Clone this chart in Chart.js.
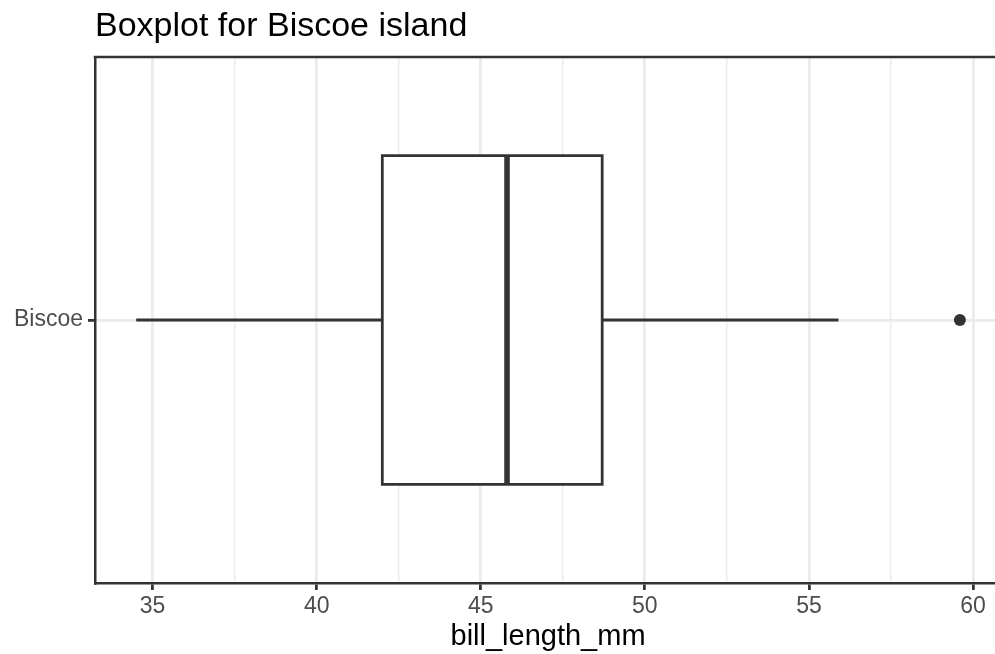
<!DOCTYPE html>
<html><head><meta charset="utf-8">
<script src="https://cdn.jsdelivr.net/npm/chart.js@4.4.0/dist/chart.umd.min.js"></script>
<style>html,body{margin:0;padding:0;background:#fff}#wrap{width:995px;height:654px;overflow:hidden}</style>
</head><body><div id="wrap"><canvas id="c" width="995" height="654"></canvas></div>
<script>
// ---- data ----
const categories = ['Biscoe'];
const lowerWhisker = [34.5];
const q1 = [42.0];
const median = [45.8];
const q3 = [48.7];
const upperWhisker = [55.9];
const outliers = [[59.6]];
const majorTicks = [35, 40, 45, 50, 55, 60];
const minorTicks = [37.5, 42.5, 47.5, 52.5, 57.5];
const titleText = 'Boxplot for Biscoe island';
const xTitle = 'bill_length_mm';

// ---- styling constants ----
const FONT = '"Liberation Sans", Arial, Helvetica, sans-serif';
const INK = '#333333';
const HALF = 0.375;   // half box height in category units
const LW = 2.77;
const X_MIN = 33.245, X_PANEL_MAX = 60.855, X_VIEW_MAX = 60.67; // panel is cropped at the right edge

const datasets = [];
categories.forEach((cat, i) => {
  datasets.push({
    data: [{x: lowerWhisker[i], y: i}, {x: q1[i], y: i}],
    showLine: true, borderColor: INK, borderWidth: LW, pointRadius: 0, borderCapStyle: 'butt', order: 3
  });
  datasets.push({
    data: [{x: q3[i], y: i}, {x: upperWhisker[i], y: i}],
    showLine: true, borderColor: INK, borderWidth: LW, pointRadius: 0, borderCapStyle: 'butt', order: 3
  });
  datasets.push({
    data: [{x: q1[i], y: i - HALF}, {x: q3[i], y: i - HALF}, {x: q3[i], y: i + HALF}, {x: q1[i], y: i + HALF}, {x: q1[i], y: i - HALF}],
    showLine: true, borderColor: INK, borderWidth: LW, pointRadius: 0, fill: 'shape',
    backgroundColor: '#ffffff', borderJoinStyle: 'miter', borderCapStyle: 'square', tension: 0, order: 2
  });
  datasets.push({
    data: [{x: median[i], y: i - HALF}, {x: median[i], y: i + HALF}],
    showLine: true, borderColor: INK, borderWidth: LW * 2, pointRadius: 0, borderCapStyle: 'butt', order: 1
  });
  datasets.push({
    data: outliers[i].map(v => ({x: v, y: i})),
    showLine: false, pointRadius: 6, pointBackgroundColor: INK, pointBorderWidth: 0, order: 0
  });
});

const isMajor = v => majorTicks.includes(v);

const frame = {
  id: 'frame',
  afterDraw(chart) {
    const {ctx, chartArea: a} = chart;
    const xs = chart.scales.x;
    ctx.save();
    ctx.strokeStyle = INK;
    ctx.lineWidth = 2.5;
    ctx.beginPath();
    ctx.moveTo(a.left - 1.25, a.top);
    ctx.lineTo(a.right + 2, a.top);
    ctx.stroke();
    ctx.fillStyle = '#000';
    ctx.font = '34px ' + FONT;
    ctx.textAlign = 'left';
    ctx.textBaseline = 'alphabetic';
    ctx.fillText(titleText, a.left, 36);
    ctx.font = '29px ' + FONT;
    ctx.textAlign = 'center';
    ctx.fillText(xTitle, xs.getPixelForValue((X_MIN + X_PANEL_MAX) / 2), 645);
    ctx.restore();
  }
};

new Chart(document.getElementById('c'), {
  type: 'scatter',
  data: {datasets},
  options: {
    responsive: false, animation: false, events: [],
    layout: {autoPadding: false, padding: {top: 57, right: 0, bottom: 0, left: 0}},
    plugins: {legend: {display: false}, tooltip: {enabled: false}},
    scales: {
      x: {
        type: 'linear', min: X_MIN, max: X_VIEW_MAX,
        afterBuildTicks: s => { s.ticks = majorTicks.concat(minorTicks).sort((a, b) => a - b).map(v => ({value: v})); },
        afterFit: s => { s.height = 71; s.paddingRight = 0; },
        ticks: {autoSkip: false, maxRotation: 0, minRotation: 0, padding: 3, color: '#4d4d4d',
          font: {family: FONT, size: 23},
          callback: v => isMajor(v) ? String(v) : ''},
        grid: {
          color: '#ebebeb',
          lineWidth: c => (c.tick && isMajor(c.tick.value)) ? LW : LW / 2,
          tickLength: 7, tickWidth: LW,
          tickColor: c => (c.tick && isMajor(c.tick.value)) ? INK : 'rgba(0,0,0,0)'
        },
        border: {color: INK, width: 2.5},
        title: {display: false, text: xTitle}
      },
      y: {
        type: 'linear', min: -0.6, max: categories.length - 1 + 0.6,
        afterBuildTicks: s => { s.ticks = categories.map((c, i) => ({value: i})); },
        afterFit: s => { s.width = 95; },
        ticks: {autoSkip: false, padding: 5, color: '#4d4d4d', font: {family: FONT, size: 23},
          callback: v => categories[v] !== undefined ? categories[v] : ''},
        grid: {color: '#ebebeb', lineWidth: LW, tickLength: 7, tickWidth: LW, tickColor: INK},
        border: {color: INK, width: 2.5}
      }
    }
  },
  plugins: [frame]
});
</script></body></html>
